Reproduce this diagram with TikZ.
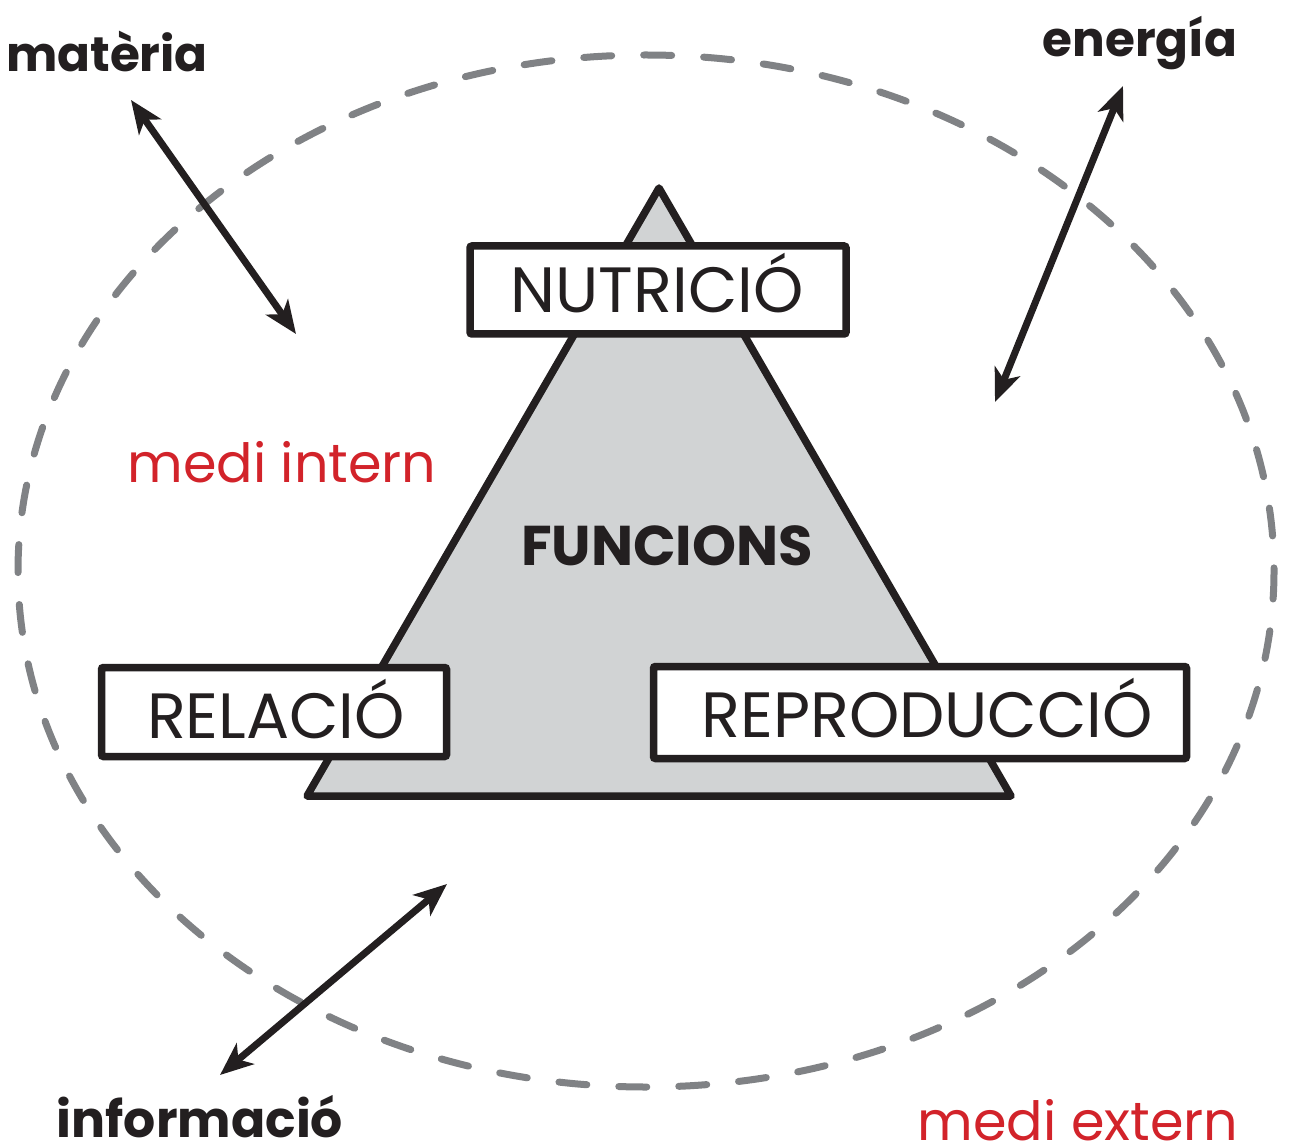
\documentclass[tikz,border=0pt]{standalone}
\usepackage{fontspec}
\setmainfont{Poppins}
\usetikzlibrary{arrows.meta}
\definecolor{ink}{HTML}{231F20}
\definecolor{trifill}{HTML}{D1D3D4}
\definecolor{redtxt}{HTML}{D2232A}
\definecolor{dashgray}{HTML}{808285}
\tikzset{
  boxnode/.style={draw=ink, fill=white, line width=7.5pt, rectangle, rounded corners=2pt, inner sep=0pt},
  boxtext/.style={text=ink, anchor=base, inner sep=0pt, font=\fontsize{64}{64}\selectfont},
  boldlabel/.style={text=ink, anchor=base, inner sep=0pt, font=\fontsize{48.5}{48.5}\selectfont\bfseries},
  redlabel/.style={text=redtxt, anchor=base, inner sep=0pt, font=\fontsize{54}{54}\selectfont},
  dblarrow/.style={draw=ink, line width=7pt, {Stealth[length=33pt,width=27pt,inset=9pt]}-{Stealth[length=33pt,width=27pt,inset=9pt]}},
}
\begin{document}
\begin{tikzpicture}[x=1pt,y=-1pt]
\useasboundingbox (0,0) rectangle (1293,1147);
% dashed boundary
\draw[dashgray, line width=7pt, line cap=round, dash pattern=on 28pt off 32pt] (646,571) ellipse [x radius=628, y radius=516];
% triangle
\coordinate (apex) at (659,188);
\coordinate (bl) at (307,796);
\coordinate (br) at (1011,796);
\draw[ink, fill=trifill, line width=7.5pt, line join=round] (apex) -- (bl) -- (br) -- cycle;
% boxes
\node[boxnode, minimum width=376pt, minimum height=88pt] (nutbox) at (658,290) {};
\node[boxnode, minimum width=345pt, minimum height=89pt] (relbox) at (274,712) {};
\node[boxnode, minimum width=533pt, minimum height=92pt] (repbox) at (920,712.5) {};
\node[boxtext] (nut) at (657,313) {NUTRICIÓ};
\node[boxtext] (rel) at (276,738) {RELACIÓ};
\node[boxtext] (rep) at (927,737) {REPRODUCCIÓ};
\node[text=ink, anchor=base, inner sep=0pt, font=\fontsize{56}{56}\selectfont\bfseries] (fun) at (667,565) {FUNCIONS};
% labels
\node[boldlabel] (mat) at (107,72) {matèria};
\node[boldlabel] (ene) at (1140,57) {energía};
\node[boldlabel, font=\fontsize{50.5}{50.5}\selectfont\bfseries] (inf) at (200,1137) {informació};
\node[redlabel] (mint) at (282,482) {medi intern};
\node[redlabel] (mext) at (1078,1140) {medi extern};
% arrows
\coordinate (matA) at (131,100);
\coordinate (matB) at (296,334);
\coordinate (eneA) at (1123,86);
\coordinate (eneB) at (995,402);
\coordinate (infA) at (447,884);
\coordinate (infB) at (220,1075);
\draw[dblarrow] (matA) -- (matB);
\draw[dblarrow] (eneA) -- (eneB);
\draw[dblarrow] (infA) -- (infB);
\end{tikzpicture}
\end{document}
